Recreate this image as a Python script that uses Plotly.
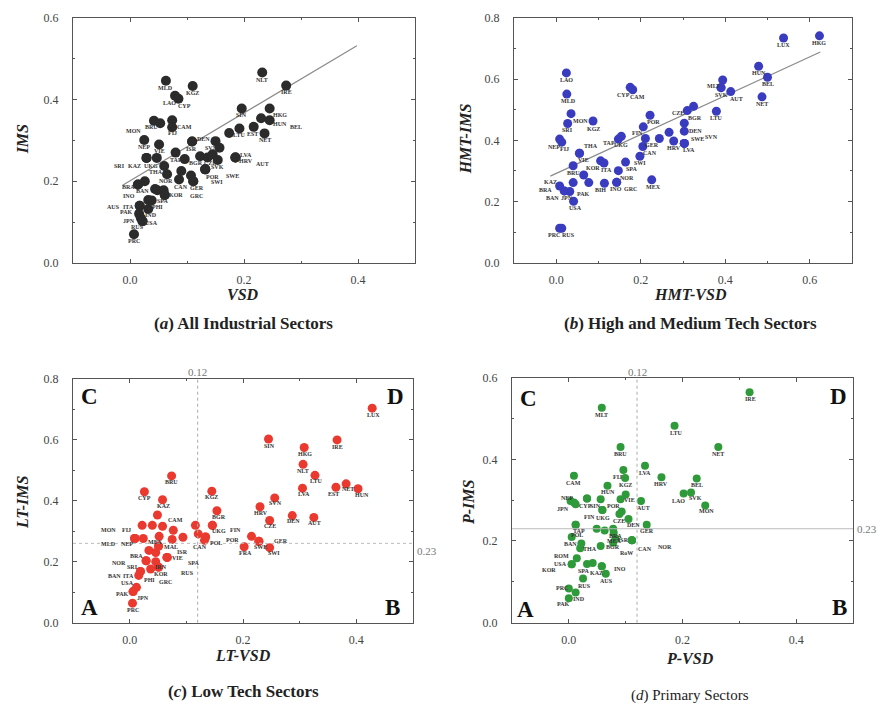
import plotly.graph_objects as go
import numpy as np

SERIF = "Liberation Serif, Times New Roman, serif"

# ---------------- Panel (a) All Industrial Sectors: VSD vs IMS ----------------
a_names = ["MLD", "KGZ", "LAO", "CYP", "NLT", "IRE", "SIN", "HKG",
           "HUN", "BEL", "EST", "NET", "LTU", "", "LVA", "HRV",
           "AUT", "DEN", "ISR", "SVN", "", "TAP", "", "BGR",
           "CZE", "", "SVK", "POR", "SWE", "SWI", "GER", "GRC",
           "", "CAN", "", "UKG", "KAZ", "SRI", "THA", "NOR",
           "VIE", "NEP", "MON", "BRU", "CAM", "FIJ", "BRA", "INO",
           "BAN", "", "", "", "KOR", "SPA", "", "PHI",
           "ITA", "AUS", "IND", "PAK", "JPN", "USA", "RUS", "PRC"]
a_vsd = [0.063, 0.110, 0.079, 0.085, 0.232, 0.274, 0.196, 0.245,
         0.245, 0.230, 0.217, 0.236, 0.192, 0.174, 0.185, 0.185,
         0.185, 0.109, 0.109, 0.150, 0.157, 0.080, 0.096, 0.123,
         0.136, 0.145, 0.154, 0.132, 0.132, 0.132, 0.111, 0.111,
         0.107, 0.086, 0.090, 0.047, 0.029, 0.029, 0.060, 0.065,
         0.051, 0.025, 0.042, 0.053, 0.074, 0.074, 0.014, 0.014,
         0.026, 0.044, 0.048, 0.059, 0.061, 0.061, 0.032, 0.038,
         0.017, 0.017, 0.032, 0.016, 0.019, 0.022, 0.022, 0.007]
a_ims = [0.446, 0.433, 0.409, 0.402, 0.466, 0.434, 0.378, 0.378,
         0.349, 0.354, 0.333, 0.317, 0.329, 0.318, 0.258, 0.258,
         0.258, 0.297, 0.297, 0.298, 0.282, 0.270, 0.254, 0.261,
         0.258, 0.266, 0.252, 0.229, 0.229, 0.229, 0.200, 0.200,
         0.214, 0.204, 0.225, 0.257, 0.257, 0.257, 0.237, 0.217,
         0.290, 0.301, 0.348, 0.342, 0.349, 0.332, 0.192, 0.192,
         0.200, 0.181, 0.178, 0.178, 0.166, 0.166, 0.154, 0.153,
         0.140, 0.140, 0.132, 0.120, 0.110, 0.102, 0.102, 0.070]
a_fit = {"intercept": 0.201, "slope": 0.831, "x_from": -0.013, "x_to": 0.398}

# ---------------- Panel (b) High and Medium Tech ----------------
b_names = ["HKG", "LUX", "HUN", "BEL", "NET", "AUT", "", "MLT",
           "SVK", "LTU", "BGR", "CZE", "", "DEN", "LVA", "SWE",
           "SVN", "HRV", "", "", "POR", "FIN", "GER", "CAN",
           "SWI", "UKG", "TAP", "MEX", "CYP", "CAM", "LAO", "MLD",
           "MON", "SRI", "KGZ", "NEP", "FIJ", "VIE", "THA", "BRU",
           "KOR", "ITA", "SPA", "NOR", "", "", "PAK", "KAZ",
           "BRA", "BAN", "JPN", "USA", "BIH", "INO", "GRC", "PRC",
           "RUS"]
b_vsd = [0.623, 0.538, 0.479, 0.500, 0.487, 0.413, 0.394, 0.390,
         0.390, 0.379, 0.325, 0.310, 0.303, 0.303, 0.303, 0.303,
         0.303, 0.278, 0.267, 0.244, 0.222, 0.206, 0.211, 0.205,
         0.198, 0.154, 0.147, 0.226, 0.175, 0.181, 0.024, 0.025,
         0.035, 0.027, 0.087, 0.008, 0.013, 0.055, 0.055, 0.040,
         0.105, 0.113, 0.164, 0.147, 0.065, 0.040, 0.077, 0.008,
         0.019, 0.019, 0.032, 0.041, 0.114, 0.143, 0.143, 0.008,
         0.013]
b_ims = [0.741, 0.734, 0.642, 0.606, 0.542, 0.559, 0.597, 0.572,
         0.572, 0.495, 0.511, 0.497, 0.456, 0.430, 0.390, 0.390,
         0.390, 0.398, 0.426, 0.406, 0.482, 0.444, 0.406, 0.380,
         0.348, 0.413, 0.404, 0.271, 0.573, 0.565, 0.620, 0.551,
         0.487, 0.455, 0.463, 0.404, 0.394, 0.358, 0.358, 0.317,
         0.333, 0.326, 0.329, 0.301, 0.287, 0.262, 0.262, 0.251,
         0.235, 0.235, 0.233, 0.201, 0.260, 0.263, 0.263, 0.113,
         0.113]
b_fit = {"intercept": 0.292, "slope": 0.634, "x_from": -0.014, "x_to": 0.625}

# ---------------- Panel (c) Low Tech ----------------
c_names = ["LUX", "SIN", "IRE", "HKG", "NLT", "LTU", "LVA", "EST",
           "NET", "HUN", "SVN", "HRV", "DEN", "AUT", "CZE", "GER",
           "SWE", "", "SWI", "FRA", "KGZ", "BGR", "UKG", "FIN",
           "", "", "POL", "POR", "CAN", "BRU", "CYP", "KAZ",
           "", "", "", "", "CAM", "FIJ", "MON", "NEP",
           "MLD", "", "", "", "ISR", "MEX", "MAL", "VIE",
           "SPA", "RUS", "BRA", "", "NOR", "SRI", "IRN", "KOR",
           "GRC", "", "BAN", "ITA", "PHI", "USA", "PAK", "JPN",
           "PRC"]
c_vsd = [0.428, 0.245, 0.366, 0.308, 0.306, 0.327, 0.305, 0.364,
         0.382, 0.403, 0.256, 0.230, 0.287, 0.325, 0.247, 0.228,
         0.228, 0.215, 0.247, 0.202, 0.145, 0.154, 0.146, 0.146,
         0.116, 0.121, 0.134, 0.134, 0.132, 0.074, 0.026, 0.058,
         0.049, 0.022, 0.040, 0.058, 0.077, 0.009, 0.009, 0.009,
         0.009, 0.024, 0.052, 0.075, 0.094, 0.051, 0.051, 0.066,
         0.066, 0.066, 0.034, 0.046, 0.029, 0.029, 0.046, 0.051,
         0.051, 0.037, 0.019, 0.019, 0.016, 0.012, 0.006, 0.006,
         0.005]
c_ims = [0.703, 0.602, 0.599, 0.574, 0.519, 0.483, 0.441, 0.444,
         0.455, 0.439, 0.409, 0.380, 0.351, 0.345, 0.335, 0.267,
         0.267, 0.283, 0.246, 0.249, 0.431, 0.367, 0.319, 0.319,
         0.319, 0.291, 0.281, 0.281, 0.270, 0.481, 0.429, 0.403,
         0.353, 0.319, 0.319, 0.316, 0.303, 0.276, 0.276, 0.276,
         0.276, 0.276, 0.283, 0.273, 0.280, 0.251, 0.251, 0.214,
         0.214, 0.214, 0.237, 0.230, 0.203, 0.203, 0.200, 0.182,
         0.182, 0.176, 0.168, 0.168, 0.155, 0.116, 0.102, 0.102,
         0.064]
c_cut_x = 0.12
c_cut_y = 0.26
c_cut_labels = ["0.12", "0.23"]

# ---------------- Panel (d) Primary Sectors ----------------
d_names = ["IRE", "MLT", "LTU", "NET", "BRU", "LVA", "FIJ", "KGZ",
           "HRV", "BEL", "SVK", "LAO", "MON", "CAM", "HUN", "VIE",
           "", "", "CZE", "AUT", "POR", "CYP", "SIN", "NEP",
           "JPN", "", "UKG", "FIN", "DEN", "GER", "TAP", "POL",
           "", "", "BRA", "MEX", "ISR", "BGR", "RoW", "CAN",
           "NOR", "BAN", "", "THA", "", "ROM", "USA", "KOR",
           "SPA", "", "KAZ", "INO", "AUS", "RUS", "PRC", "IND",
           "PAK"]
d_vsd = [0.318, 0.058, 0.186, 0.263, 0.091, 0.134, 0.096, 0.099,
         0.163, 0.225, 0.215, 0.202, 0.240, 0.009, 0.068, 0.100,
         0.091, 0.093, 0.089, 0.127, 0.056, 0.032, 0.032, 0.003,
         0.009, 0.012, 0.059, 0.059, 0.105, 0.137, 0.012, 0.012,
         0.049, 0.063, 0.078, 0.079, 0.082, 0.078, 0.111, 0.111,
         0.111, 0.005, 0.022, 0.020, 0.056, 0.014, 0.005, 0.005,
         0.032, 0.042, 0.058, 0.058, 0.065, 0.025, 0.000, 0.012,
         0.000]
d_ims = [0.564, 0.526, 0.482, 0.430, 0.430, 0.384, 0.374, 0.354,
         0.356, 0.353, 0.319, 0.316, 0.287, 0.360, 0.335, 0.314,
         0.302, 0.272, 0.266, 0.298, 0.302, 0.304, 0.304, 0.298,
         0.294, 0.290, 0.276, 0.276, 0.254, 0.240, 0.240, 0.240,
         0.230, 0.226, 0.230, 0.220, 0.206, 0.196, 0.202, 0.202,
         0.202, 0.210, 0.194, 0.182, 0.188, 0.158, 0.143, 0.143,
         0.144, 0.146, 0.138, 0.138, 0.120, 0.108, 0.084, 0.074,
         0.060]
d_cut_x = 0.12
d_cut_y = 0.23
d_cut_labels = ["0.12", "0.23"]

# ---------------- label placement (pixel offsets dx, dy-down) ----------------
a_lbl = [(0, 7), (0, 7), (-6, 7), (6, 7), (0, 7), (0, 6), (0, 7), (10, 7),
         (10, 4), (35, 9), (-1, 7), (0, 7), (0, 7), (0, 0), (11, -2), (11, 4),
         (27, 7), (11, -3), (-1, 7), (-4, 7), (0, 0), (0, 7), (0, 0), (-4, 7),
         (2, 6), (0, 0), (0, 7), (7, 8), (27, 7), (12, 13), (4, 7), (3, 15),
         (0, 0), (2, 7), (0, 0), (-6, 8), (-12, 8), (-27, 8), (-8, 6), (-1, 7),
         (0, 7), (0, 7), (-20, 10), (-9, 4), (12, 7), (0, 6), (-9, 3), (-9, 12),
         (-2, 10), (0, 0), (0, 0), (0, 0), (11, 0), (-2, 6), (0, 0), (6, 7),
         (-11, 1), (-26, 1), (3, 6), (-13, -2), (-12, 3), (9, 2), (-5, 6), (0, 7)]
b_lbl = [(0, 7), (0, 7), (0, 7), (0, 7), (0, 7), (6, 7), (0, 0), (-8, -2),
         (0, 7), (0, 7), (1, 12), (-9, 2), (0, 0), (11, 0), (5, 7), (13, -4),
         (27, -6), (0, 7), (0, 0), (0, 0), (3, 7), (-6, 6), (7, 7), (7, 7),
         (0, 7), (0, 9), (-9, 4), (2, 7), (-7, 8), (5, 7), (0, 7), (2, 7),
         (9, 7), (0, 7), (0, 8), (-6, 8), (3, 7), (4, 7), (12, -7), (0, 7),
         (-8, 7), (3, 7), (6, 7), (9, 7), (0, 0), (0, 0), (-5, 11), (-9, -4),
         (-19, -1), (-12, 7), (-3, 6), (2, 7), (-4, 7), (-1, 7), (14, 7), (-6, 7),
         (7, 7)]
c_lbl = [(1, 7), (1, 7), (0, 7), (1, 6), (0, 7), (1, 6), (1, 6), (-2, 7),
         (2, 5), (4, 6), (1, 5), (1, 6), (1, 5), (1, 6), (0, 6), (22, 0),
         (2, 6), (0, 0), (4, 5), (1, 6), (0, 6), (2, 6), (7, 6), (23, 5),
         (0, 0), (0, 0), (10, 6), (27, 3), (-4, 7), (0, 6), (0, 6), (1, 6),
         (0, 0), (0, 0), (0, 0), (0, 0), (2, -10), (-8, -8), (-26, -8), (-8, 6),
         (-26, 6), (0, 0), (0, 0), (0, 0), (0, 15), (-3, -4), (12, 1), (10, 1),
         (27, 6), (20, 16), (-12, 6), (0, 0), (-27, 2), (-14, 6), (5, 5), (2, 7),
         (7, 15), (0, 0), (-26, 5), (-12, 5), (11, 5), (-9, -4), (-11, 2), (10, 6),
         (0, 7)]
d_lbl = [(1, 7), (0, 7), (1, 7), (0, 7), (0, 7), (0, 7), (-6, 7), (0, 7),
         (0, 7), (0, 7), (4, 6), (-5, 7), (1, 6), (0, 7), (1, 6), (4, 6),
         (0, 0), (0, 0), (0, 7), (2, 7), (13, 7), (-2, 7), (8, 7), (-4, -3),
         (-11, 6), (0, 0), (1, 8), (-13, 7), (5, 6), (0, 6), (3, 6), (1, 10),
         (0, 0), (0, 0), (2, 7), (1, 8), (8, 1), (0, 4), (-5, 13), (13, 9),
         (33, 7), (-1, 7), (0, 0), (10, 1), (0, 0), (-15, -2), (-11, 0), (-23, 6),
         (-3, 7), (0, 0), (-5, 7), (18, 3), (1, 7), (1, 7), (-7, 0), (3, 7),
         (-5, 6)]

W, H = 880, 715


def px(v):
    return v / W


def py(v):
    return 1 - v / H


fig = go.Figure()
annotations = []
shapes = []

panels = [
    dict(names=a_names, x=a_vsd, y=a_ims, lbl=a_lbl, color="#2b2b2b", size=10, xa="x", ya="y",
         dom_x=(73, 415), dom_y=(11, 261), xr=[-0.1, 0.5], yr=[0, 0.6]),
    dict(names=b_names, x=b_vsd, y=b_ims, lbl=b_lbl, color="#3a3cc0", size=9, xa="x2", ya="y2",
         dom_x=(514, 852), dom_y=(11, 261), xr=[-0.1, 0.7], yr=[0, 0.8]),
    dict(names=c_names, x=c_vsd, y=c_ims, lbl=c_lbl, color="#ea3a30", size=9, xa="x3", ya="y3",
         dom_x=(73, 413), dom_y=(379, 628), xr=[-0.1, 0.5], yr=[0, 0.8]),
    dict(names=d_names, x=d_vsd, y=d_ims, lbl=d_lbl, color="#2f9a3a", size=8, xa="x4", ya="y4",
         dom_x=(512, 853), dom_y=(378, 628), xr=[-0.1, 0.5], yr=[0, 0.6]),
]

layout_axes = {}
for i, p in enumerate(panels):
    suffix = "" if i == 0 else str(i + 1)
    common = dict(showline=True, linecolor="#555", linewidth=1, mirror="allticks",
                  ticks="inside", ticklen=4, tickcolor="#555", tick0=0, dtick=0.2,
                  tickformat=".1f", showgrid=False, zeroline=False,
                  tickfont=dict(family=SERIF, size=12, color="#444"),
                  minor=dict(dtick=0.1, ticks="inside", ticklen=2, tickcolor="#555"))
    layout_axes["xaxis" + suffix] = dict(common, domain=[px(p["dom_x"][0]), px(p["dom_x"][1])],
                                         range=p["xr"], anchor="y" + suffix, ticklabelstandoff=6)
    layout_axes["yaxis" + suffix] = dict(common, domain=[py(p["dom_y"][1]), py(p["dom_y"][0])],
                                         range=p["yr"], anchor="x" + suffix, ticklabelstandoff=11)

# regression lines
for fit, xa, ya in [(a_fit, "x", "y"), (b_fit, "x2", "y2")]:
    xs = np.array([fit["x_from"], fit["x_to"]])
    fig.add_trace(go.Scatter(x=xs, y=fit["intercept"] + fit["slope"] * xs, mode="lines",
                             line=dict(color="#8a8a8a", width=1.2), xaxis=xa, yaxis=ya,
                             showlegend=False, hoverinfo="skip"))

for p in panels:
    fig.add_trace(go.Scatter(x=p["x"], y=p["y"], mode="markers", text=p["names"],
                             marker=dict(color=p["color"], size=p["size"], line=dict(width=0)),
                             xaxis=p["xa"], yaxis=p["ya"], showlegend=False, hoverinfo="text+x+y"))
    for n, xv, yv, (dx, dy) in zip(p["names"], p["x"], p["y"], p["lbl"]):
        if not n:
            continue
        annotations.append(dict(x=xv, y=yv, xref=p["xa"], yref=p["ya"], text=n, showarrow=False,
                                xanchor="center", yanchor="middle", xshift=dx, yshift=-dy,
                                font=dict(family=SERIF, size=6, color="#333", weight="bold")))


def paper_text(txt, xx, yy, size, color="#222", angle=0):
    return dict(x=px(xx), y=py(yy), xref="paper", yref="paper", text=txt, showarrow=False,
                xanchor="center", yanchor="middle", textangle=angle,
                font=dict(family=SERIF, size=size, color=color))


# quadrant cut lines for (c) and (d)
for cx, cy, labels, xa, ya, hdash, top_y, right_x, lab_dy in [
        (c_cut_x, c_cut_y, c_cut_labels, "x3", "y3", "dot", 372, 427, 8),
        (d_cut_x, d_cut_y, d_cut_labels, "x4", "y4", "solid", 372, 867, 0)]:
    shapes.append(dict(type="line", xref=xa, yref=ya + " domain", x0=cx, x1=cx, y0=0, y1=1,
                       line=dict(color="#aaa", width=1, dash="dot")))
    shapes.append(dict(type="line", xref=xa + " domain", yref=ya, x0=0, x1=1, y0=cy, y1=cy,
                       line=dict(color="#bbb", width=1, dash=hdash)))
    annotations.append(dict(x=cx, y=py(top_y), xref=xa, yref="paper", text=labels[0],
                            showarrow=False, xanchor="center", yanchor="middle",
                            font=dict(family=SERIF, size=11, color="#777")))
    annotations.append(dict(x=px(right_x), y=cy, xref="paper", yref=ya, text=labels[1],
                            showarrow=False, yshift=-lab_dy, xanchor="center", yanchor="middle",
                            font=dict(family=SERIF, size=11, color="#777")))

# quadrant letters
for txt, xx, yy in [("C", 89, 397), ("D", 395, 397), ("A", 89, 613), ("B", 392, 612),
                    ("C", 528, 399), ("D", 838, 397), ("A", 525, 615), ("B", 839, 613)]:
    annotations.append(paper_text("<b>%s</b>" % txt, xx, yy, 23, "#111"))

# axis titles
for txt, xx, yy, ang in [("IMS", 22, 135, -90), ("HMT-IMS", 465, 135, -90),
                         ("LT-IMS", 22, 505, -90), ("P-IMS", 468, 505, -90),
                         ("VSD", 243, 293, 0), ("HMT-VSD", 690, 293, 0),
                         ("LT-VSD", 243, 661, 0), ("P-VSD", 690, 665, 0)]:
    annotations.append(paper_text("<b><i>%s</i></b>" % txt, xx, yy, 16, "#222", ang))

# panel captions
for txt, xx, yy, sz in [("<b>(<i>a</i>) All Industrial Sectors</b>", 243, 323, 17),
                        ("<b>(<i>b</i>) High and Medium Tech Sectors</b>", 690, 323, 17),
                        ("<b>(<i>c</i>) Low Tech Sectors</b>", 243, 698, 17),
                        ("(<i>d</i>) Primary Sectors", 690, 702, 15)]:
    annotations.append(paper_text(txt, xx, yy, sz))

fig.update_layout(width=W, height=H, margin=dict(l=0, r=0, t=0, b=0),
                  paper_bgcolor="white", plot_bgcolor="white",
                  annotations=annotations, shapes=shapes, **layout_axes)

fig.write_html("out.html")
